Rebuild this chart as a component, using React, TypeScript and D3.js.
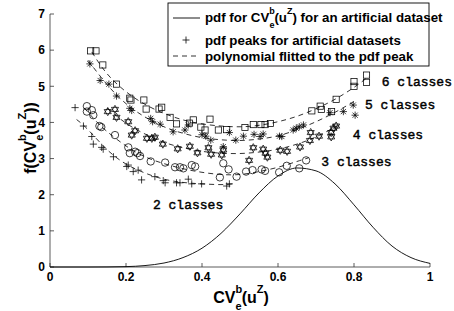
import * as d3 from "d3";

// pdf of CV for one artificial dataset
const pdfCurve: [number, number][] = [
  [0, 0], [0.1, 0], [0.15, 0.002], [0.2, 0.01], [0.25, 0.04], [0.3, 0.11],
  [0.35, 0.26], [0.4, 0.52], [0.45, 0.93], [0.5, 1.47], [0.55, 2.05],
  [0.6, 2.52], [0.65, 2.74], [0.7, 2.66], [0.75, 2.3], [0.8, 1.72],
  [0.85, 1.1], [0.9, 0.58], [0.95, 0.26], [1, 0.1],
];

// pdf peaks, one array per number of classes
const peaks2: [number, number][] = [
  [0.066, 4.41], [0.088, 3.9], [0.11, 3.61], [0.114, 3.4], [0.136, 3.31], [0.14, 3.26],
  [0.167, 3.05], [0.202, 2.78], [0.206, 2.82], [0.219, 2.64], [0.232, 2.68], [0.241, 2.41],
  [0.276, 2.5], [0.298, 2.39], [0.303, 2.33], [0.333, 2.33], [0.342, 2.33], [0.364, 2.43],
  [0.373, 2.3], [0.399, 2.3], [0.465, 2.24], [0.472, 2.3],
];
const peaks3: [number, number][] = [
  [0.097, 4.45], [0.097, 4.3], [0.11, 4.34], [0.114, 4.2], [0.13, 3.9], [0.135, 3.87],
  [0.171, 3.65], [0.206, 3.31], [0.21, 3.15], [0.224, 3.19], [0.23, 3.15], [0.237, 3.07],
  [0.265, 2.92], [0.303, 2.89], [0.329, 2.76], [0.342, 2.76], [0.351, 2.73], [0.373, 2.82],
  [0.382, 2.78], [0.447, 2.48], [0.456, 2.87], [0.47, 2.7], [0.491, 2.5], [0.516, 2.64],
  [0.533, 2.68], [0.557, 2.7], [0.566, 2.66], [0.603, 2.62], [0.623, 2.8], [0.656, 2.73],
  [0.674, 2.95],
];
const peaks4: [number, number][] = [
  [0.152, 4.3], [0.171, 4.36], [0.175, 4.14], [0.206, 4.02], [0.215, 3.65], [0.224, 3.77],
  [0.255, 3.56], [0.268, 3.56], [0.276, 3.59], [0.297, 3.4], [0.336, 3.27], [0.368, 3.34],
  [0.388, 3.16], [0.417, 3.3], [0.424, 3.12], [0.452, 3.1], [0.456, 3.24], [0.524, 2.95],
  [0.535, 3.3], [0.561, 3.26], [0.567, 3.15], [0.572, 3.04], [0.606, 3.23], [0.624, 3.2],
  [0.658, 3.32], [0.684, 3.5], [0.686, 3.72], [0.708, 3.62], [0.74, 3.6], [0.74, 3.72],
  [0.746, 3.84], [0.753, 3.9],
];
const peaks5: [number, number][] = [
  [0.105, 5.62], [0.132, 5.16], [0.155, 5.06], [0.175, 4.73], [0.21, 4.39], [0.215, 4.33],
  [0.265, 4.11], [0.27, 4.02], [0.29, 3.95], [0.324, 3.74], [0.355, 3.79], [0.364, 3.93],
  [0.4, 3.66], [0.41, 3.62], [0.423, 3.51], [0.456, 3.33], [0.472, 3.72], [0.489, 3.51],
  [0.509, 3.62], [0.537, 3.67], [0.553, 3.61], [0.561, 3.68], [0.604, 3.62], [0.61, 3.61],
  [0.64, 3.79], [0.648, 3.84], [0.656, 3.88], [0.667, 3.93], [0.737, 4.27], [0.772, 4.3],
  [0.798, 4.48], [0.803, 4.2],
];
const peaks6: [number, number][] = [
  [0.107, 5.98], [0.121, 5.98], [0.139, 5.59], [0.175, 5.06], [0.21, 4.67], [0.213, 4.62],
  [0.247, 4.62], [0.253, 4.37], [0.287, 4.37], [0.294, 4.42], [0.316, 4.14], [0.333, 3.96],
  [0.367, 3.98], [0.377, 4.07], [0.397, 3.87], [0.408, 3.79], [0.421, 4.09], [0.443, 3.79],
  [0.465, 3.8], [0.513, 3.86], [0.535, 3.94], [0.555, 3.94], [0.566, 3.94], [0.58, 3.97],
  [0.689, 4.32], [0.711, 4.45], [0.714, 4.36], [0.741, 4.3], [0.753, 4.64], [0.8, 5.13],
  [0.8, 5.0], [0.833, 5.31], [0.833, 5.11],
];

// fitted polynomials (sampled from the dashed curves)
const fit2: [number, number][] = [
  [0.07, 4.08], [0.1, 3.8], [0.15, 3.25], [0.2, 2.85], [0.25, 2.6], [0.3, 2.43],
  [0.35, 2.34], [0.4, 2.3], [0.45, 2.28], [0.48, 2.3],
];
const fit3: [number, number][] = [
  [0.09, 4.4], [0.12, 4.05], [0.15, 3.75], [0.2, 3.35], [0.25, 3.05], [0.3, 2.86],
  [0.35, 2.72], [0.4, 2.62], [0.45, 2.56], [0.5, 2.56], [0.55, 2.64], [0.6, 2.76],
  [0.65, 2.92], [0.68, 3.02],
];
const fit4: [number, number][] = [
  [0.15, 4.4], [0.2, 3.98], [0.25, 3.68], [0.3, 3.45], [0.35, 3.3], [0.4, 3.2],
  [0.45, 3.15], [0.5, 3.14], [0.55, 3.18], [0.6, 3.26], [0.65, 3.4], [0.7, 3.6],
  [0.76, 3.93],
];
const fit5: [number, number][] = [
  [0.1, 5.72], [0.15, 5.05], [0.2, 4.52], [0.25, 4.15], [0.3, 3.88], [0.35, 3.7],
  [0.4, 3.58], [0.45, 3.52], [0.5, 3.5], [0.55, 3.54], [0.6, 3.63], [0.65, 3.8],
  [0.7, 4.02], [0.75, 4.28], [0.8, 4.58],
];
const fit6: [number, number][] = [
  [0.11, 5.95], [0.15, 5.35], [0.2, 4.85], [0.25, 4.5], [0.3, 4.25], [0.35, 4.07],
  [0.4, 3.96], [0.45, 3.9], [0.5, 3.88], [0.55, 3.92], [0.6, 4.02], [0.65, 4.17],
  [0.7, 4.38], [0.75, 4.64], [0.8, 4.97], [0.84, 5.28],
];

const classLabels = ["2 classes", "3 classes", "4 classes", "5 classes", "6 classes"];
const classLabelPos: [number, number][] = [
  [0.271, 1.6], [0.714, 2.79], [0.797, 3.53], [0.829, 4.36], [0.873, 5.01],
];

const xTicks = [0, 0.2, 0.4, 0.6, 0.8, 1];
const yTicks = [0, 1, 2, 3, 4, 5, 6, 7];

const W = 454;
const H = 311;
const x = d3.scaleLinear().domain([0, 1]).range([50, 430]);
const y = d3.scaleLinear().domain([0, 7]).range([267, 14]);

const sans = "'Liberation Sans', Arial, Helvetica, sans-serif";
const mono = "'Liberation Mono', 'Courier New', monospace";

const lineGen = d3
  .line<[number, number]>()
  .x((d) => x(d[0]))
  .y((d) => y(d[1]));

const pdfPath = lineGen.curve(d3.curveMonotoneX)(pdfCurve) || "";
const fitLine = d3
  .line<[number, number]>()
  .x((d) => x(d[0]))
  .y((d) => y(d[1]))
  .curve(d3.curveNatural);

const hexPath = (r: number) => {
  const tri = (off: number) =>
    [0, 1, 2]
      .map((i) => {
        const a = off + (i * 2 * Math.PI) / 3;
        return `${(r * Math.cos(a)).toFixed(2)},${(r * Math.sin(a)).toFixed(2)}`;
      })
      .join(" L");
  return `M${tri(-Math.PI / 2)} Z M${tri(Math.PI / 2)} Z`;
};

const Marker = ({ kind, cx, cy }: { kind: string; cx: number; cy: number }) => {
  const t = `translate(${cx},${cy})`;
  const s = 3.6;
  if (kind === "plus")
    return <path transform={t} d={`M${-s},0H${s}M0,${-s}V${s}`} />;
  if (kind === "circle") return <circle cx={cx} cy={cy} r={3.7} />;
  if (kind === "square") return <rect x={cx - 3.1} y={cy - 3.1} width={6.2} height={6.2} />;
  if (kind === "star") {
    const d = s * 0.72;
    return (
      <path
        transform={t}
        d={`M${-s},0H${s}M0,${-s}V${s}M${-d},${-d}L${d},${d}M${-d},${d}L${d},${-d}`}
      />
    );
  }
  return <path transform={t} d={hexPath(4.1)} />;
};

// CV_e^b(u^Z) as tspans
const CV = ({ fs, ss }: { fs: number; ss: number }) => (
  <>
    <tspan fontSize={fs}>CV</tspan>
    <tspan fontSize={ss} dy={-0.6 * fs}>b</tspan>
    <tspan fontSize={ss} dx={-0.6 * ss} dy={1.05 * fs}>e</tspan>
    <tspan fontSize={fs} dy={-0.45 * fs}>(u</tspan>
    <tspan fontSize={ss} dy={-0.6 * fs}>Z</tspan>
    <tspan fontSize={fs} dy={0.6 * fs}>)</tspan>
  </>
);

const series = [
  { kind: "plus", data: peaks2, fit: fit2 },
  { kind: "circle", data: peaks3, fit: fit3 },
  { kind: "hex", data: peaks4, fit: fit4 },
  { kind: "star", data: peaks5, fit: fit5 },
  { kind: "square", data: peaks6, fit: fit6 },
];

export default function App() {
  return (
    <svg
      width={W}
      height={H}
      style={{ position: "absolute", left: 0, top: 0, background: "#fff" }}
    >
      {/* axes */}
      <g stroke="#333" strokeWidth={0.8} fill="none">
        <line x1={x(0)} x2={x(0)} y1={y(7)} y2={y(0)} />
        <line x1={x(0)} x2={x(1)} y1={y(0)} y2={y(0)} />
        {xTicks.map((t) => (
          <line key={t} x1={x(t)} x2={x(t)} y1={y(0)} y2={y(0) - 4} />
        ))}
        {yTicks.map((t) => (
          <line key={t} x1={x(0)} x2={x(0) + 4} y1={y(t)} y2={y(t)} />
        ))}
      </g>
      <g fontFamily={sans} fontWeight="bold" fontSize={12} fill="#000">
        {xTicks.map((t) => (
          <text key={t} x={x(t)} y={281} textAnchor="middle">
            {String(t)}
          </text>
        ))}
        {yTicks.map((t) => (
          <text key={t} x={45} y={y(t)} dy="0.36em" textAnchor="end">
            {String(t)}
          </text>
        ))}
      </g>

      {/* axis labels */}
      <text
        x={241}
        y={303}
        textAnchor="middle"
        fontFamily={sans}
        fontWeight="bold"
        style={{ whiteSpace: "pre" }}
      >
        <CV fs={16} ss={11} />
      </text>
      <text
        transform="translate(36,138) rotate(-90)"
        textAnchor="middle"
        fontFamily={sans}
        fontWeight="bold"
        style={{ whiteSpace: "pre" }}
      >
        <tspan fontSize={16}>f(</tspan>
        <CV fs={16} ss={11} />
        <tspan fontSize={16}>)</tspan>
      </text>

      {/* pdf curve */}
      <path d={pdfPath} fill="none" stroke="#000" strokeWidth={0.9} />

      {/* fitted polynomials */}
      <g fill="none" stroke="#000" strokeWidth={0.8} strokeDasharray="5,4">
        {series.map((s) => (
          <path key={s.kind} d={fitLine(s.fit) || ""} />
        ))}
      </g>

      {/* peaks */}
      <g fill="none" stroke="#000" strokeWidth={0.75}>
        {series.map((s) =>
          s.data.map((d, i) => (
            <Marker key={s.kind + i} kind={s.kind} cx={x(d[0])} cy={y(d[1])} />
          ))
        )}
      </g>

      {/* class labels */}
      <g fontFamily={mono} fontSize={13} fill="#000" stroke="#000" strokeWidth={0.45}>
        {classLabels.map((l, i) => (
          <text key={l} x={x(classLabelPos[i][0])} y={y(classLabelPos[i][1])} style={{ whiteSpace: "pre" }}>
            {l}
          </text>
        ))}
      </g>

      {/* legend */}
      <g>
        <rect x={168} y={3} width={261} height={63} fill="#fff" stroke="#000" strokeWidth={0.9} />
        <line x1={173} x2={200} y1={18} y2={18} stroke="#000" strokeWidth={0.9} />
        <path d="M182.5,40H189.5M186,36.5V43.5" stroke="#000" strokeWidth={0.8} />
        <line x1={173} x2={200} y1={56} y2={56} stroke="#000" strokeWidth={0.8} strokeDasharray="5,4" />
        <g fontFamily={sans} fontWeight="bold" fontSize={13.3} fill="#000" style={{ whiteSpace: "pre" }}>
          <text x={205} y={22}>
            <tspan>{"pdf for "}</tspan>
            <CV fs={13.3} ss={9} />
            <tspan>{" for an artificial dataset"}</tspan>
          </text>
          <text x={205} y={44.5}>pdf peaks for artificial datasets</text>
          <text x={205} y={60.5}>polynomial flitted to the pdf peak</text>
        </g>
      </g>
    </svg>
  );
}
